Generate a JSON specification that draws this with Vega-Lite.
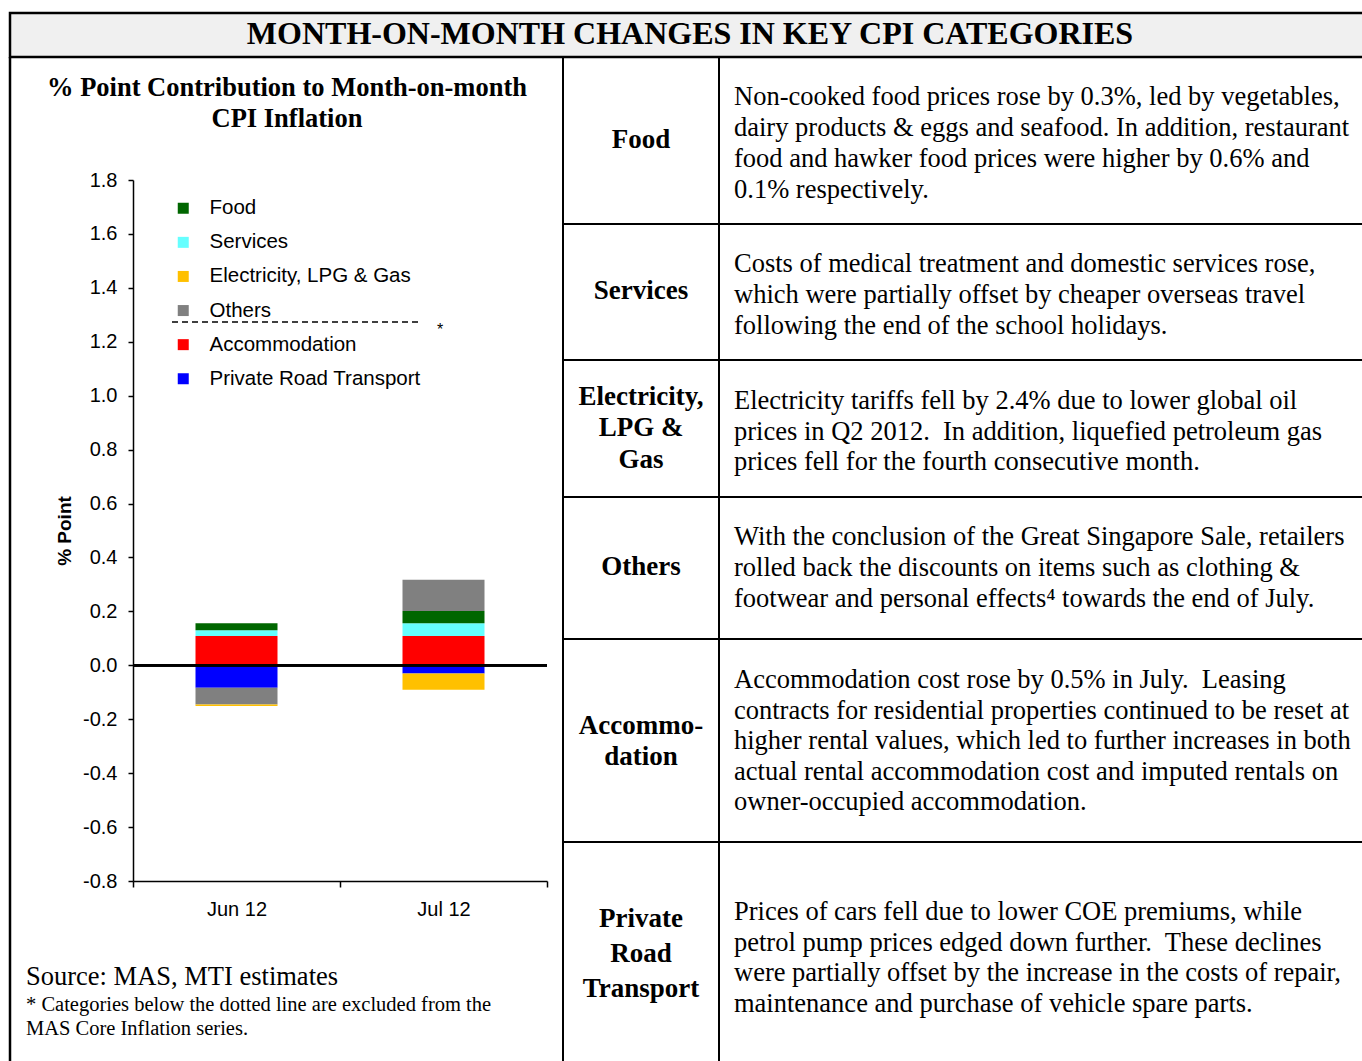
{
  "$schema": "https://vega.github.io/schema/vega-lite/v6.json",
  "width": 1362,
  "height": 1061,
  "autosize": {"type": "none"},
  "padding": 0,
  "background": "white",
  "config": {"view": {"stroke": null}},
  "data": {"values": [{"note": "layout"}]},
  "layer": [
    {
      "layer": [
        {"mark": {"type": "rect", "fill": "#f0f0f0", "stroke": "black", "strokeWidth": 2.5},
         "encoding": {
           "x": {"datum": 10, "type": "quantitative", "scale": {"domain": [0, 1362], "range": [0, 1362], "nice": false, "zero": false}, "axis": null},
           "x2": {"datum": 1368},
           "y": {"datum": 13, "type": "quantitative", "scale": {"domain": [0, 1061], "range": [0, 1061], "nice": false, "zero": false}, "axis": null},
           "y2": {"datum": 57}}},
        {"mark": {"type": "rule", "color": "black", "strokeWidth": 2.5},
         "encoding": {"x": {"datum": 10, "type": "quantitative", "axis": null}, "y": {"datum": 57, "type": "quantitative", "axis": null}, "y2": {"datum": 1061}}},
        {"mark": {"type": "rule", "color": "black", "strokeWidth": 2},
         "encoding": {"x": {"datum": 563, "type": "quantitative", "axis": null}, "y": {"datum": 57, "type": "quantitative", "axis": null}, "y2": {"datum": 1061}}},
        {"mark": {"type": "rule", "color": "black", "strokeWidth": 2},
         "encoding": {"x": {"datum": 719, "type": "quantitative", "axis": null}, "y": {"datum": 57, "type": "quantitative", "axis": null}, "y2": {"datum": 1061}}},
        {"mark": {"type": "rule", "color": "black", "strokeWidth": 2},
         "encoding": {"x": {"datum": 563, "type": "quantitative", "axis": null}, "x2": {"datum": 1362}, "y": {"datum": 224, "type": "quantitative", "axis": null}}},
        {"mark": {"type": "rule", "color": "black", "strokeWidth": 2},
         "encoding": {"x": {"datum": 563, "type": "quantitative", "axis": null}, "x2": {"datum": 1362}, "y": {"datum": 360, "type": "quantitative", "axis": null}}},
        {"mark": {"type": "rule", "color": "black", "strokeWidth": 2},
         "encoding": {"x": {"datum": 563, "type": "quantitative", "axis": null}, "x2": {"datum": 1362}, "y": {"datum": 497, "type": "quantitative", "axis": null}}},
        {"mark": {"type": "rule", "color": "black", "strokeWidth": 2},
         "encoding": {"x": {"datum": 563, "type": "quantitative", "axis": null}, "x2": {"datum": 1362}, "y": {"datum": 639, "type": "quantitative", "axis": null}}},
        {"mark": {"type": "rule", "color": "black", "strokeWidth": 2},
         "encoding": {"x": {"datum": 563, "type": "quantitative", "axis": null}, "x2": {"datum": 1362}, "y": {"datum": 842, "type": "quantitative", "axis": null}}},
        {"mark": {"type": "rule", "color": "black", "strokeWidth": 1.5, "strokeDash": [6, 4]},
         "encoding": {"x": {"datum": 172, "type": "quantitative", "axis": null}, "x2": {"datum": 421}, "y": {"datum": 322, "type": "quantitative", "axis": null}}},
        {"mark": {"type": "text", "font": "Liberation Sans", "fontSize": 16, "align": "center", "baseline": "middle", "color": "black"},
         "encoding": {"x": {"datum": 440, "type": "quantitative", "axis": null}, "y": {"datum": 330, "type": "quantitative", "axis": null}, "text": {"value": "*"}}},
        {"mark": {"type": "text", "font": "Liberation Serif", "fontSize": 32, "fontWeight": "bold", "align": "center", "baseline": "middle", "color": "black"},
         "encoding": {"x": {"datum": 690, "type": "quantitative", "axis": null}, "y": {"datum": 34, "type": "quantitative", "axis": null}, "text": {"value": "MONTH-ON-MONTH CHANGES IN KEY CPI CATEGORIES"}}},
        {"mark": {"type": "text", "font": "Liberation Serif", "fontSize": 26.5, "fontWeight": "bold", "align": "center", "baseline": "top", "lineHeight": 31, "color": "black"},
         "encoding": {"x": {"datum": 287, "type": "quantitative", "axis": null}, "y": {"datum": 75, "type": "quantitative", "axis": null}, "text": {"value": ["% Point Contribution to Month-on-month", "CPI Inflation"]}}},
        {"mark": {"type": "text", "font": "Liberation Serif", "fontSize": 26.5, "align": "left", "baseline": "middle", "color": "black"},
         "encoding": {"x": {"datum": 26, "type": "quantitative", "axis": null}, "y": {"datum": 977, "type": "quantitative", "axis": null}, "text": {"value": "Source: MAS, MTI estimates"}}},
        {"mark": {"type": "text", "font": "Liberation Serif", "fontSize": 20.5, "align": "left", "baseline": "top", "lineHeight": 24, "color": "black"},
         "encoding": {"x": {"datum": 26, "type": "quantitative", "axis": null}, "y": {"datum": 995, "type": "quantitative", "axis": null}, "text": {"value": ["* Categories below the dotted line are excluded from the", "MAS Core Inflation series."]}}},
        {"mark": {"type": "text", "font": "Liberation Serif", "fontSize": 27, "fontWeight": "bold", "align": "center", "baseline": "middle", "color": "black"},
         "encoding": {"x": {"datum": 641, "type": "quantitative", "axis": null}, "y": {"datum": 140, "type": "quantitative", "axis": null}, "text": {"value": "Food"}}},
        {"mark": {"type": "text", "font": "Liberation Serif", "fontSize": 27, "fontWeight": "bold", "align": "center", "baseline": "middle", "color": "black"},
         "encoding": {"x": {"datum": 641, "type": "quantitative", "axis": null}, "y": {"datum": 291, "type": "quantitative", "axis": null}, "text": {"value": "Services"}}},
        {"mark": {"type": "text", "font": "Liberation Serif", "fontSize": 27, "fontWeight": "bold", "align": "center", "baseline": "top", "lineHeight": 31.5, "color": "black"},
         "encoding": {"x": {"datum": 641, "type": "quantitative", "axis": null}, "y": {"datum": 383.5, "type": "quantitative", "axis": null}, "text": {"value": ["Electricity,", "LPG &", "Gas"]}}},
        {"mark": {"type": "text", "font": "Liberation Serif", "fontSize": 27, "fontWeight": "bold", "align": "center", "baseline": "middle", "color": "black"},
         "encoding": {"x": {"datum": 641, "type": "quantitative", "axis": null}, "y": {"datum": 567, "type": "quantitative", "axis": null}, "text": {"value": "Others"}}},
        {"mark": {"type": "text", "font": "Liberation Serif", "fontSize": 27, "fontWeight": "bold", "align": "center", "baseline": "top", "lineHeight": 31, "color": "black"},
         "encoding": {"x": {"datum": 641, "type": "quantitative", "axis": null}, "y": {"datum": 712.5, "type": "quantitative", "axis": null}, "text": {"value": ["Accommo-", "dation"]}}},
        {"mark": {"type": "text", "font": "Liberation Serif", "fontSize": 27, "fontWeight": "bold", "align": "center", "baseline": "top", "lineHeight": 35, "color": "black"},
         "encoding": {"x": {"datum": 641, "type": "quantitative", "axis": null}, "y": {"datum": 905.5, "type": "quantitative", "axis": null}, "text": {"value": ["Private", "Road", "Transport"]}}},
        {"mark": {"type": "text", "font": "Liberation Serif", "fontSize": 26.5, "align": "left", "baseline": "top", "lineHeight": 31, "color": "black"},
         "encoding": {"x": {"datum": 734, "type": "quantitative", "axis": null}, "y": {"datum": 84, "type": "quantitative", "axis": null}, "text": {"value": ["Non-cooked food prices rose by 0.3%, led by vegetables,", "dairy products & eggs and seafood. In addition, restaurant", "food and hawker food prices were higher by 0.6% and", "0.1% respectively."]}}},
        {"mark": {"type": "text", "font": "Liberation Serif", "fontSize": 26.5, "align": "left", "baseline": "top", "lineHeight": 31, "color": "black"},
         "encoding": {"x": {"datum": 734, "type": "quantitative", "axis": null}, "y": {"datum": 251, "type": "quantitative", "axis": null}, "text": {"value": ["Costs of medical treatment and domestic services rose,", "which were partially offset by cheaper overseas travel", "following the end of the school holidays."]}}},
        {"mark": {"type": "text", "font": "Liberation Serif", "fontSize": 26.5, "align": "left", "baseline": "top", "lineHeight": 30.5, "color": "black"},
         "encoding": {"x": {"datum": 734, "type": "quantitative", "axis": null}, "y": {"datum": 388, "type": "quantitative", "axis": null}, "text": {"value": ["Electricity tariffs fell by 2.4% due to lower global oil", "prices in Q2 2012.\u00a0 In addition, liquefied petroleum gas", "prices fell for the fourth consecutive month."]}}},
        {"mark": {"type": "text", "font": "Liberation Serif", "fontSize": 26.5, "align": "left", "baseline": "top", "lineHeight": 31, "color": "black"},
         "encoding": {"x": {"datum": 734, "type": "quantitative", "axis": null}, "y": {"datum": 524, "type": "quantitative", "axis": null}, "text": {"value": ["With the conclusion of the Great Singapore Sale, retailers", "rolled back the discounts on items such as clothing &", "footwear and personal effects⁴ towards the end of July."]}}},
        {"mark": {"type": "text", "font": "Liberation Serif", "fontSize": 26.5, "align": "left", "baseline": "top", "lineHeight": 30.5, "color": "black"},
         "encoding": {"x": {"datum": 734, "type": "quantitative", "axis": null}, "y": {"datum": 667, "type": "quantitative", "axis": null}, "text": {"value": ["Accommodation cost rose by 0.5% in July.\u00a0 Leasing", "contracts for residential properties continued to be reset at", "higher rental values, which led to further increases in both", "actual rental accommodation cost and imputed rentals on", "owner-occupied accommodation."]}}},
        {"mark": {"type": "text", "font": "Liberation Serif", "fontSize": 26.5, "align": "left", "baseline": "top", "lineHeight": 30.7, "color": "black"},
         "encoding": {"x": {"datum": 734, "type": "quantitative", "axis": null}, "y": {"datum": 899, "type": "quantitative", "axis": null}, "text": {"value": ["Prices of cars fell due to lower COE premiums, while", "petrol pump prices edged down further.\u00a0 These declines", "were partially offset by the increase in the costs of repair,", "maintenance and purchase of vehicle spare parts."]}}}
      ]
    },
    {
      "data": {"values": [
        {"month": "Jun 12", "category": "Accommodation", "value": 0.109, "stackOrder": 1},
        {"month": "Jun 12", "category": "Private Road Transport", "value": -0.083, "stackOrder": 2},
        {"month": "Jun 12", "category": "Services", "value": 0.021, "stackOrder": 3},
        {"month": "Jun 12", "category": "Food", "value": 0.026, "stackOrder": 4},
        {"month": "Jun 12", "category": "Others", "value": -0.062, "stackOrder": 5},
        {"month": "Jun 12", "category": "Electricity, LPG & Gas", "value": -0.006, "stackOrder": 6},
        {"month": "Jul 12", "category": "Accommodation", "value": 0.109, "stackOrder": 1},
        {"month": "Jul 12", "category": "Private Road Transport", "value": -0.030, "stackOrder": 2},
        {"month": "Jul 12", "category": "Services", "value": 0.047, "stackOrder": 3},
        {"month": "Jul 12", "category": "Food", "value": 0.045, "stackOrder": 4},
        {"month": "Jul 12", "category": "Others", "value": 0.116, "stackOrder": 5},
        {"month": "Jul 12", "category": "Electricity, LPG & Gas", "value": -0.061, "stackOrder": 6}
      ]},
      "layer": [
        {"mark": {"type": "bar", "width": 82},
         "encoding": {
           "x": {"field": "month", "type": "nominal",
                 "scale": {"domain": ["Jun 12", "Jul 12"], "range": [133, 547], "paddingInner": 0, "paddingOuter": 0},
                 "axis": {"orient": "bottom", "offset": -180, "title": null, "labelAngle": 0, "labelFont": "Liberation Sans", "labelFontSize": 20, "labelColor": "black", "labelPadding": 12, "tickBand": "extent", "tickSize": 6, "tickColor": "black", "tickWidth": 1.5, "domainColor": "black", "domainWidth": 1.5, "grid": false}},
           "y": {"field": "value", "type": "quantitative", "stack": "zero",
                 "scale": {"domain": [-0.8, 1.8], "range": [881, 180], "nice": false, "zero": false},
                 "axis": {"orient": "left", "offset": -133, "values": [-0.8, -0.6, -0.4, -0.2, 0, 0.2, 0.4, 0.6, 0.8, 1.0, 1.2, 1.4, 1.6, 1.8],
                          "labelExpr": "replace(format(datum.value, '.1f'), '\u2212', '-')",
                          "title": "% Point", "titleFont": "Liberation Sans", "titleFontSize": 19, "titleFontWeight": "bold", "titleColor": "black", "titlePadding": 8,
                          "labelFont": "Liberation Sans", "labelFontSize": 20, "labelColor": "black", "labelPadding": 11,
                          "tickSize": 5, "tickColor": "black", "tickWidth": 1.5, "domainColor": "black", "domainWidth": 1.5, "grid": false}},
           "color": {"field": "category", "type": "nominal",
                     "scale": {"domain": ["Food", "Services", "Electricity, LPG & Gas", "Others", "Accommodation", "Private Road Transport"],
                               "range": ["#006600", "#66FFFF", "#FFC000", "#808080", "#FF0000", "#0000FF"]},
                     "legend": {"orient": "none", "legendX": 173, "legendY": 198, "direction": "vertical", "title": null,
                                "symbolType": "square", "symbolSize": 121, "symbolStrokeWidth": 0, "symbolOpacity": 1,
                                "labelFont": "Liberation Sans", "labelFontSize": 20.5, "labelColor": "black", "labelOffset": 16, "labelLimit": 400,
                                "rowPadding": 13.1, "padding": 0}},
           "order": {"field": "stackOrder", "type": "quantitative", "sort": "ascending"}
         }},
        {"mark": {"type": "rule", "color": "black", "strokeWidth": 2},
         "encoding": {
           "x": {"datum": "Jun 12", "type": "nominal", "bandPosition": 0},
           "x2": {"datum": "Jul 12", "bandPosition": 1},
           "y": {"datum": 0, "type": "quantitative"}}}
      ]
    }
  ],
  "resolve": {"scale": {"x": "independent", "y": "independent"}}
}
